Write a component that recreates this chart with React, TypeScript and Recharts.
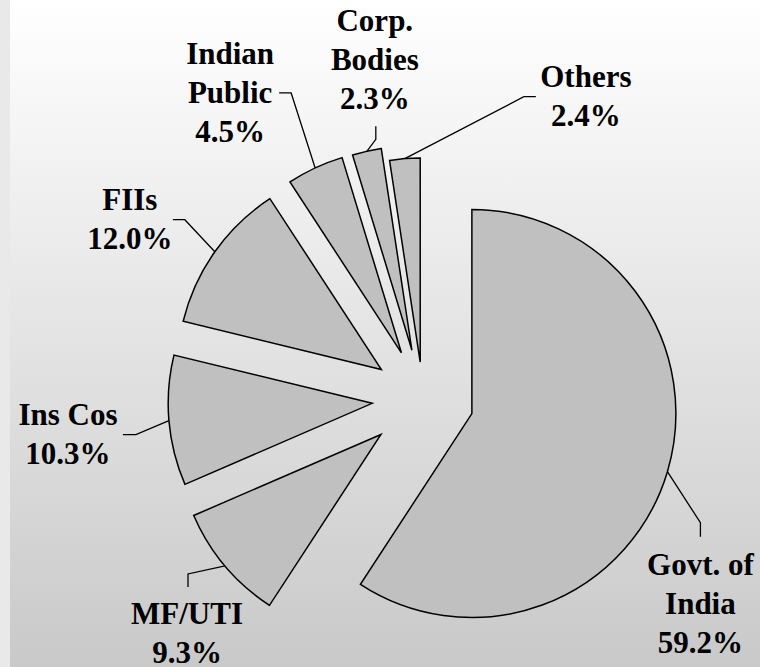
import React from 'react';
import { PieChart, Pie, Cell } from 'recharts';

const categories = ['Govt. of India', 'MF/UTI', 'Ins Cos', 'FIIs', 'Indian Public', 'Corp. Bodies', 'Others'];
const labelLines = [['Govt. of', 'India'], ['MF/UTI'], ['Ins Cos'], ['FIIs'], ['Indian', 'Public'], ['Corp.', 'Bodies'], ['Others']];
const shares = [59.2, 9.3, 10.3, 12.0, 4.5, 2.3, 2.4];

const data = categories.map((name, i) => ({ name, value: shares[i] }));

const W = 760;
const H = 667;
const CX = 423;
const CY = 399;
const R = 204;
const LINE_H = 39;
const RAD = Math.PI / 180;

// how far each slice is pulled out of the pie
const explode = [51, 55, 51, 51, 51, 50, 37];

// leader line + text placement, relative to the point where the leader touches the arc
const leaders = [
  { elbow: [33, 51], end: [33, 65], text: [33, 103] },
  { elbow: [-37, 8], end: [-37, 21], text: [-38, 58] },
  { elbow: [-33, 14], end: [-46, 14], text: [-101, 4] },
  { elbow: [-30, -32], end: [-42, -32], text: [-85, -42] },
  { elbow: [-24, -75], end: [-36, -75], text: [-85, -104] },
  { elbow: [9, -12], end: [9, -25], text: [8, -120] },
  { elbow: [119, -62], end: [131, -62], text: [181, -72] },
];

const total = shares.reduce((a, b) => a + b, 0);
let acc = 0;
const offsets = shares.map((v, i) => {
  const mid = ((acc + v / 2) / total) * 360; // clockwise from 12 o'clock
  acc += v;
  return { dx: explode[i] * Math.sin(mid * RAD), dy: -explode[i] * Math.cos(mid * RAD) };
});

const renderLabel = (props: any, slice: number) => {
  const { cx, cy, midAngle, outerRadius, index, value } = props;
  if (index !== slice) return null;
  const ax = cx + outerRadius * Math.cos(-midAngle * RAD);
  const ay = cy + outerRadius * Math.sin(-midAngle * RAD);
  const l = leaders[index];
  const lines = [...labelLines[index], `${Number(value).toFixed(1)}%`];
  return (
    <g key={`lbl-${index}`}>
      <polyline
        points={`${ax},${ay} ${ax + l.elbow[0]},${ay + l.elbow[1]} ${ax + l.end[0]},${ay + l.end[1]}`}
        fill="none"
        stroke="#000"
        strokeWidth={1.3}
      />
      {lines.map((t, k) => (
        <text
          key={k}
          x={ax + l.text[0]}
          y={ay + l.text[1] + k * LINE_H}
          textAnchor="middle"
          style={{ fontFamily: '"Liberation Serif", "Times New Roman", serif', fontWeight: 700, fontSize: 31 }}
          fill="#000"
        >
          {t}
        </text>
      ))}
    </g>
  );
};

export default function App() {
  return (
    <div style={{ position: 'absolute', left: 0, top: 0, width: W, height: H, background: '#e9e9e9' }}>
      <div
        style={{
          position: 'absolute',
          left: 10,
          top: 0,
          width: W - 10,
          height: H,
          background: 'linear-gradient(to bottom, #ffffff 0%, #c9c9c9 100%)',
        }}
      />
      <div style={{ position: 'absolute', left: 0, top: 0 }}>
        <PieChart width={W} height={H} margin={{ top: 0, right: 0, bottom: 0, left: 0 }}>
          {offsets.map((o, s) => (
            <Pie
              key={s}
              data={data}
              dataKey="value"
              nameKey="name"
              cx={CX + o.dx}
              cy={CY + o.dy}
              outerRadius={R}
              innerRadius={0}
              startAngle={90}
              endAngle={-270}
              isAnimationActive={false}
              labelLine={false}
              label={(p: any) => renderLabel(p, s)}
            >
              {data.map((d, i) => (
                <Cell
                  key={d.name}
                  fill={i === s ? '#c0c0c0' : 'none'}
                  stroke={i === s ? '#000' : 'none'}
                  strokeWidth={1.5}
                />
              ))}
            </Pie>
          ))}
        </PieChart>
      </div>
    </div>
  );
}
